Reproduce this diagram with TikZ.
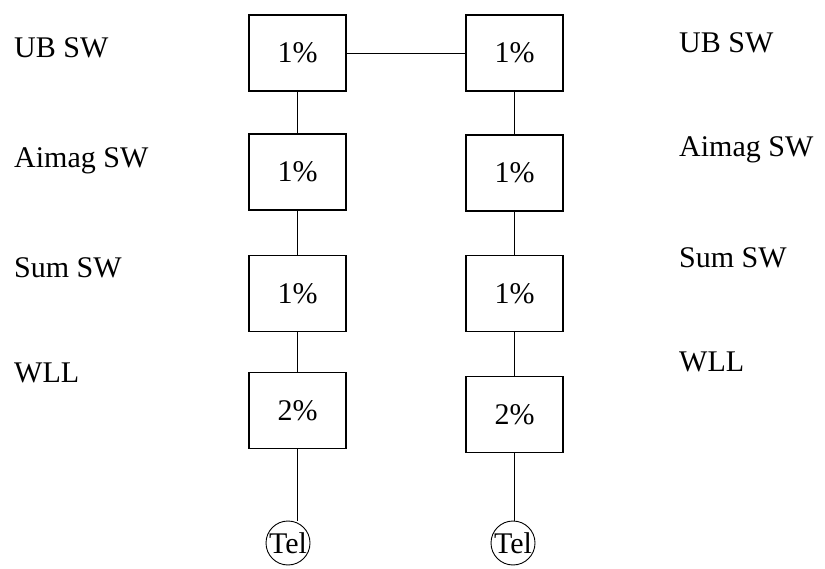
\documentclass[tikz,border=0pt]{standalone}
\usepackage{fontspec}
\setmainfont{Liberation Serif}
\begin{document}
\begin{tikzpicture}[x=1pt,y=-1pt,
  every node/.style={font=\fontsize{30}{36}\selectfont},
  box/.style={draw,line width=1.1pt,minimum width=97pt,minimum height=76pt,inner sep=0pt},
  telc/.style={draw,circle,line width=0.9pt,minimum size=44pt,inner sep=0pt},
  lbl/.style={anchor=base west,inner sep=0pt},
  conn/.style={line width=0.9pt}]
\useasboundingbox (0,0) rectangle (825,569);
% left column
\node[box] (l1) at (297.5,53) {1\%};
\node[box] (l2) at (297.5,172) {1\%};
\node[box] (l3) at (297.5,293.5) {1\%};
\node[box] (l4) at (297.5,410.5) {2\%};
\node[telc,label={center:Tel}] (lt) at (288,543) {};
% right column
\node[box] (r1) at (514.5,53) {1\%};
\node[box] (r2) at (514.5,173) {1\%};
\node[box] (r3) at (514.5,293.5) {1\%};
\node[box] (r4) at (514.5,414.5) {2\%};
\node[telc,label={center:Tel}] (rt) at (513,543) {};
% labels
\node[lbl] (la) at (14,58) {UB SW};
\node[lbl] (lb) at (14,168) {Aimag SW};
\node[lbl] (lc) at (14,278) {Sum SW};
\node[lbl] (ld) at (14,382) {WLL};
\node[lbl] (ra) at (679,53) {UB SW};
\node[lbl] (rb) at (679,157) {Aimag SW};
\node[lbl] (rc) at (679,268) {Sum SW};
\node[lbl] (rd) at (679,372) {WLL};
% connectors
\draw[conn] (l1.east) -- (r1.west);
\draw[conn] (l1.south) -- (l2.north);
\draw[conn] (l2.south) -- (l3.north);
\draw[conn] (l3.south) -- (l4.north);
\draw[conn] (l4.south) -- (l4.south |- lt.north);
\draw[conn] (r1.south) -- (r2.north);
\draw[conn] (r2.south) -- (r3.north);
\draw[conn] (r3.south) -- (r4.north);
\draw[conn] (r4.south) -- (r4.south |- rt.north);
\end{tikzpicture}
\end{document}
